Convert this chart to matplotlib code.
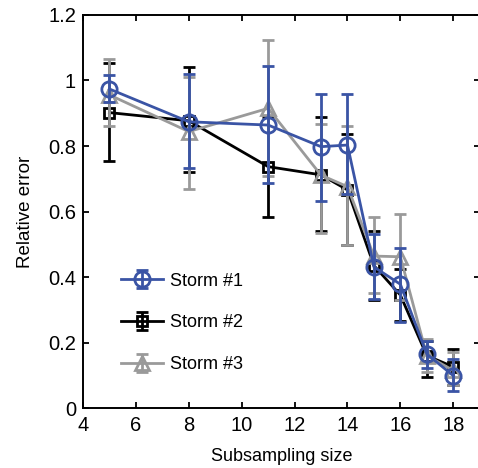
import matplotlib
matplotlib.use("Agg")
import matplotlib.pyplot as plt

plt.rcParams['font.family'] = ['Liberation Sans', 'DejaVu Sans']

# subsampling sizes
sizes = [5, 8, 11, 13, 14, 15, 16, 17, 18]

# Storm #1
s1_mean = [0.974, 0.874, 0.864, 0.798, 0.803, 0.431, 0.378, 0.165, 0.099]
s1_low = [0.935, 0.733, 0.688, 0.633, 0.655, 0.332, 0.262, 0.123, 0.053]
s1_high = [1.017, 1.020, 1.044, 0.959, 0.959, 0.530, 0.489, 0.205, 0.149]

# Storm #2
s2_mean = [0.902, 0.877, 0.737, 0.712, 0.666, 0.435, 0.345, 0.160, 0.126]
s2_low = [0.754, 0.720, 0.584, 0.540, 0.498, 0.330, 0.265, 0.094, 0.070]
s2_high = [1.052, 1.042, 0.890, 0.889, 0.837, 0.540, 0.424, 0.205, 0.179]

# Storm #3
s3_mean = [0.956, 0.844, 0.915, 0.711, 0.676, 0.464, 0.462, 0.160, 0.115]
s3_low = [0.861, 0.669, 0.710, 0.535, 0.498, 0.350, 0.330, 0.110, 0.070]
s3_high = [1.065, 1.010, 1.124, 0.867, 0.861, 0.582, 0.592, 0.210, 0.170]

fig = plt.figure(figsize=(4.78, 4.68), dpi=100)
# right spine sits just outside the picture, as in the reference
ax = fig.add_axes([0.1736, 0.128, 0.830, 0.84])

series = [
    ('Storm #1', s1_mean, s1_low, s1_high, '#3a54a5', 'o', 11, 4),
    ('Storm #2', s2_mean, s2_low, s2_high, 'black', 's', 7, 2),
    ('Storm #3', s3_mean, s3_low, s3_high, '#9a9a9a', '^', 10, 3),
]

handles = {}
for name, m, lo, hi, col, mk, ms, z in series:
    err = [[a - b for a, b in zip(m, lo)], [b - a for a, b in zip(m, hi)]]
    h = ax.errorbar(sizes, m, yerr=err, color=col, marker=mk, markersize=ms,
                    markerfacecolor='none', markeredgewidth=2, linewidth=2,
                    elinewidth=2, capsize=4, capthick=2, zorder=z, label=name)
    handles[name] = h

ax.legend([handles[n] for n in ['Storm #1', 'Storm #2', 'Storm #3']],
          ['Storm #1', 'Storm #2', 'Storm #3'],
          loc='lower left', bbox_to_anchor=(0.055, 0.047), frameon=False,
          fontsize=13, handlelength=2.35, handletextpad=0.35, labelspacing=1.38)

ax.set_xlim(4, 19)
ax.set_ylim(0, 1.2)
ax.set_xticks([4, 6, 8, 10, 12, 14, 16, 18])
ax.set_yticks([0, 0.2, 0.4, 0.6, 0.8, 1.0, 1.2])
ax.set_yticklabels(['0', '0.2', '0.4', '0.6', '0.8', '1', '1.2'])
ax.tick_params(direction='in', top=True, right=True, labelsize=14.5,
               width=1.3, length=4.5)
ax.tick_params(axis='x', pad=6)
ax.tick_params(axis='y', pad=5)
for sp in ax.spines.values():
    sp.set_linewidth(1.4)
ax.set_xlabel('Subsampling size', fontsize=13, labelpad=9)
ax.set_ylabel('Relative error', fontsize=13.5, labelpad=10)

fig.savefig('out.png', dpi=100)
